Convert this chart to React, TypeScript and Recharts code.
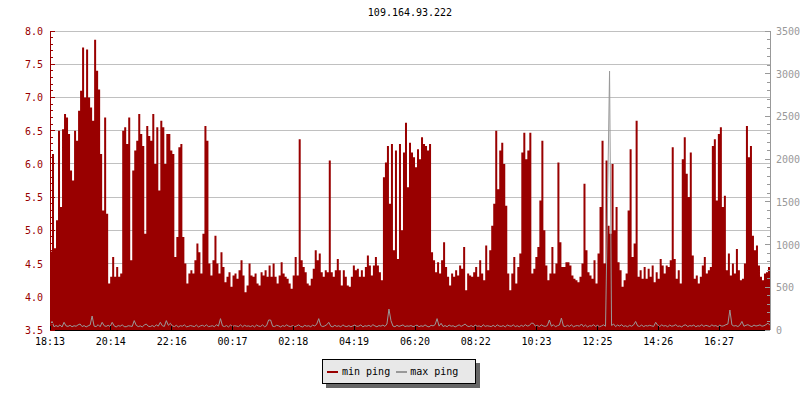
import React from 'react';
import { ComposedChart, Area, Line, XAxis, YAxis, CartesianGrid } from 'recharts';

const FONT = '"DejaVu Sans Mono", monospace';
const RED = '#990000';
const GREY = '#999999';

const TITLE = '109.164.93.222';
const TIME_LABELS = ['18:13', '20:14', '22:16', '00:17', '02:18', '04:19', '06:20', '08:22', '10:23', '12:25', '14:26', '16:27'];
const TIME_TICKS = [0, 30.3, 60.7, 91, 121.3, 151.6, 182, 212.3, 242.6, 273, 303.3, 333.6];

const LEFT_MAJOR = [3.5, 4.0, 4.5, 5.0, 5.5, 6.0, 6.5, 7.0, 7.5, 8.0];
const LEFT_TICKS = [
  3.5, 3.6, 3.7, 3.8, 3.9, 4.0, 4.1, 4.2, 4.3, 4.4, 4.5, 4.6, 4.7, 4.8, 4.9, 5.0,
  5.1, 5.2, 5.3, 5.4, 5.5, 5.6, 5.7, 5.8, 5.9, 6.0, 6.1, 6.2, 6.3, 6.4, 6.5,
  6.6, 6.7, 6.8, 6.9, 7.0, 7.1, 7.2, 7.3, 7.4, 7.5, 7.6, 7.7, 7.8, 7.9, 8.0,
];
const RIGHT_MAJOR = [0, 500, 1000, 1500, 2000, 2500, 3000, 3500];
const RIGHT_TICKS = [
  0, 100, 200, 300, 400, 500, 600, 700, 800, 900, 1000, 1100, 1200, 1300, 1400, 1500, 1600, 1700,
  1800, 1900, 2000, 2100, 2200, 2300, 2400, 2500, 2600, 2700, 2800, 2900, 3000, 3100, 3200, 3300, 3400, 3500,
];

// min ping (left axis), one sample per ~4 minutes
const MIN_PING = [
  4.68, 6.15, 4.73, 5.15, 6.5, 5.35, 6.52, 6.75, 6.7, 6.45,
  5.9, 5.75, 6.5, 6.35, 6.8, 7.1, 7.75, 7.0, 7.72, 7.0,
  6.85, 6.65, 7.87, 7.4, 7.12, 6.15, 5.3, 6.7, 5.25, 4.2,
  4.3, 4.6, 4.3, 4.45, 4.3, 4.35, 6.5, 6.55, 6.3, 6.7,
  4.55, 5.9, 6.2, 6.35, 6.75, 6.45, 6.27, 4.95, 6.57, 6.42,
  6.35, 6.75, 6.0, 6.55, 5.6, 6.65, 6.55, 6.0, 6.45, 6.45,

  6.2, 6.15, 4.6, 4.9, 6.25, 6.3, 4.9, 4.5, 4.2, 4.35,
  4.4, 4.35, 4.55, 4.8, 4.67, 4.35, 4.95, 6.57, 6.35, 4.5,
  4.32, 4.55, 4.92, 4.5, 4.35, 4.67, 4.45, 4.22, 4.3, 4.37,
  4.15, 4.32, 4.35, 4.27, 4.4, 4.55, 4.32, 4.07, 4.17, 4.5,
  4.32, 4.3, 4.35, 4.2, 4.17, 4.37, 4.32, 4.4, 4.3, 4.47,
  4.3, 4.5, 4.3, 4.2, 4.32, 4.52, 4.35, 4.3, 4.27, 4.2,

  4.12, 4.32, 4.6, 4.32, 6.37, 4.55, 4.45, 4.37, 4.2, 4.17,
  4.27, 4.42, 4.7, 4.55, 4.65, 4.37, 4.3, 4.4, 4.37, 6.05,
  4.37, 4.3, 4.4, 4.57, 4.4, 4.17, 4.4, 4.3, 4.17, 4.15,
  4.3, 4.47, 4.4, 4.42, 4.3, 4.4, 4.3, 4.45, 4.62, 4.47,
  4.32, 4.47, 4.6, 4.47, 4.37, 4.25, 5.8, 6.02, 6.27, 5.4,
  6.3, 4.7, 6.2, 4.57, 6.3, 5.0, 6.17, 6.62, 5.65, 6.32,

  6.17, 6.1, 5.95, 6.22, 6.07, 6.4, 6.3, 6.27, 6.2, 6.3,
  4.67, 4.55, 4.37, 4.52, 4.35, 4.55, 4.82, 4.45, 4.3, 4.17,
  4.35, 4.3, 4.4, 4.32, 4.47, 4.42, 4.75, 4.1, 4.35, 4.32,
  4.3, 4.37, 4.45, 4.3, 4.55, 4.35, 4.25, 4.77, 4.4, 4.7,
  5.07, 5.4, 6.5, 5.62, 6.2, 6.32, 6.0, 5.37, 4.35, 4.1,
  4.35, 4.6, 4.2, 4.45, 4.65, 6.17, 6.47, 6.07, 6.2, 6.47,

  4.35, 4.42, 4.6, 4.75, 5.45, 6.35, 5.0, 4.47, 4.25, 4.35,
  4.75, 4.35, 4.5, 6.02, 4.82, 4.45, 4.45, 4.52, 4.52, 4.47,
  4.32, 4.27, 4.25, 4.22, 4.3, 4.5, 5.7, 4.7, 4.37, 4.32,
  4.27, 4.55, 4.2, 4.65, 5.35, 6.35, 4.5, 6.05, 5.07, 4.95,
  6.0, 5.0, 5.35, 4.52, 4.4, 4.15, 4.25, 4.35, 5.3, 6.22,
  4.6, 4.8, 6.65, 4.3, 4.4, 4.27, 4.45, 4.27, 4.42, 4.3,

  4.47, 4.22, 4.37, 4.27, 4.57, 4.47, 4.35, 4.47, 4.45, 4.55,
  6.25, 4.57, 4.27, 4.4, 4.2, 6.07, 6.4, 5.85, 5.5, 6.17,
  4.62, 4.27, 4.32, 4.2, 4.3, 4.47, 4.6, 4.35, 4.4, 4.45,
  6.27, 6.37, 5.45, 6.45, 6.55, 5.35, 5.52, 4.4, 4.65, 4.32,
  4.5, 4.35, 4.72, 4.4, 4.25, 4.27, 4.5, 6.57, 6.1, 6.27,
  4.92, 4.7, 4.77, 4.47, 4.3, 4.25, 4.35, 4.37, 4.45, 6.32,
];

// max ping (right axis)
const MAX_PING = [
  45, 100, 38, 52, 40, 60, 35, 90, 48, 42,
  55, 38, 50, 44, 60, 70, 40, 52, 36, 48,
  58, 164, 45, 40, 62, 38, 90, 50, 42, 55,
  40, 90, 48, 36, 52, 44, 60, 40, 38, 50,
  46, 42, 110, 55, 40, 48, 36, 58, 70, 44,
  40, 52, 38, 60, 45, 90, 50, 42, 110, 55,

  78, 48, 40, 55, 36, 50, 44, 60, 38, 42,
  52, 46, 40, 58, 36, 48, 55, 42, 60, 40,
  44, 50, 38, 62, 45, 133, 48, 40, 52, 36,
  58, 42, 50, 46, 40, 60, 38, 55, 44, 48,
  40, 52, 36, 58, 45, 42, 60, 38, 50, 117,
  117, 44, 40, 55, 48, 36, 52, 42, 60, 45,

  40, 52, 38, 48, 60, 42, 36, 55, 44, 50,
  38, 58, 46, 70, 133, 52, 40, 48, 62, 90,
  44, 38, 55, 42, 50, 36, 60, 45, 40, 52,
  38, 48, 58, 42, 46, 60, 36, 50, 44, 55,
  40, 62, 48, 38, 52, 45, 58, 42, 70, 245,
  110, 46, 38, 55, 42, 50, 60, 40, 48, 44,

  52, 40, 46, 58, 38, 50, 42, 60, 44, 36,
  55, 48, 62, 133, 45, 78, 40, 52, 38, 58,
  44, 50, 36, 48, 60, 42, 55, 70, 46, 40,
  52, 38, 58, 44, 48, 36, 62, 42, 50, 45,
  40, 55, 38, 60, 46, 42, 52, 36, 58, 48,
  44, 60, 40, 50, 38, 55, 42, 62, 46, 52,

  80, 78, 45, 55, 40, 60, 48, 42, 52, 117,
  44, 62, 38, 50, 58, 140, 46, 40, 55, 42,
  60, 38, 48, 52, 44, 70, 40, 58, 36, 50,
  46, 62, 42, 55, 38, 48, 60, 44, 1500, 3030,
  52, 70, 40, 58, 46, 62, 42, 50, 38, 55,
  44, 60, 100, 48, 42, 58, 40, 52, 46, 55,

  48, 42, 90, 55, 40, 60, 46, 52, 38, 58,
  44, 50, 62, 42, 48, 36, 55, 60, 40, 52,
  46, 58, 38, 50, 44, 62, 42, 55, 48, 40,
  60, 46, 52, 38, 58, 44, 50, 62, 70, 234,
  60, 46, 52, 40, 58, 100, 44, 55, 62, 48,
  40, 58, 46, 52, 60, 44, 50, 62, 80, 55,
];

const data = MIN_PING.map((v, i) => ({ i, min: v, max: MAX_PING[i] }));

const isMajor = (list: number[], v: number) => list.some((m) => Math.abs(m - v) < 1e-6);

const LeftTick = (props: any) => {
  const { x, y, payload } = props;
  const major = isMajor(LEFT_MAJOR, payload.value);
  return (
    <g>
      <line x1={x} y1={y} x2={x + (major ? 5 : 3)} y2={y} stroke={RED} shapeRendering="crispEdges" />
      {major && (
        <text x={x - 7} y={y + 4} textAnchor="end" fill={RED} fontSize={10} fontFamily={FONT}>
          {payload.value.toFixed(1)}
        </text>
      )}
    </g>
  );
};

const RightTick = (props: any) => {
  const { x, y, payload } = props;
  const major = isMajor(RIGHT_MAJOR, payload.value);
  return (
    <g>
      <line x1={x} y1={y} x2={x - (major ? 5 : 3)} y2={y} stroke={GREY} shapeRendering="crispEdges" />
      {major && (
        <text x={x + 6} y={y + 4} textAnchor="start" fill={GREY} fontSize={10} fontFamily={FONT}>
          {payload.value}
        </text>
      )}
    </g>
  );
};

const BottomTick = (props: any) => {
  const { x, y, index } = props;
  return (
    <g>
      <line x1={x} y1={y} x2={x} y2={y - 4} stroke="#000" shapeRendering="crispEdges" />
      <text x={x} y={y + 15} textAnchor="middle" fill="#000" fontSize={10} fontFamily={FONT}>
        {TIME_LABELS[index]}
      </text>
    </g>
  );
};

const LegendBox = () => (
  <div
    style={{
      position: 'absolute',
      left: 322,
      top: 359,
      width: 154,
      height: 25,
      boxSizing: 'border-box',
      border: '1px solid #000',
      background: '#e8e8e8',
      boxShadow: '4px 4px 0 #666',
      display: 'flex',
      alignItems: 'center',
      fontFamily: FONT,
      fontSize: 10,
      color: '#000',
      paddingLeft: 4,
    }}
  >
    <span style={{ display: 'inline-block', width: 11, height: 2, background: RED, marginRight: 4 }} />
    <span>min ping</span>
    <span style={{ display: 'inline-block', width: 11, height: 2, background: GREY, marginLeft: 6, marginRight: 3 }} />
    <span>max ping</span>
  </div>
);

export default function App() {
  return (
    <div style={{ position: 'absolute', left: 0, top: 0, width: 800, height: 400, background: '#fff' }}>
      <div
        style={{
          position: 'absolute',
          top: 7,
          left: 20,
          width: 780,
          textAlign: 'center',
          fontFamily: FONT,
          fontSize: 10,
          color: '#000',
        }}
      >
        {TITLE}
      </div>
      <ComposedChart width={800} height={400} data={data} margin={{ top: 31, right: 0, bottom: 50, left: 0 }}>
        <CartesianGrid yAxisId="grid" vertical={false} stroke="#c0c0c0" shapeRendering="crispEdges" />
        <XAxis
          dataKey="i"
          type="number"
          domain={[0, 359]}
          ticks={TIME_TICKS}
          interval={0}
          tickSize={0}
          tickMargin={0}
          tick={<BottomTick />}
          height={20}
          axisLine={{ stroke: '#000', shapeRendering: 'crispEdges' }}
          tickLine={false}
          allowDataOverflow
        />
        <YAxis
          yAxisId="left"
          width={50}
          domain={[3.5, 8]}
          ticks={LEFT_TICKS}
          interval={0}
          tickSize={0}
          tickMargin={0}
          tick={<LeftTick />}
          tickLine={false}
          axisLine={{ stroke: RED, shapeRendering: 'crispEdges' }}
          allowDataOverflow
        />
        <YAxis
          yAxisId="right"
          orientation="right"
          width={30}
          domain={[0, 3500]}
          ticks={RIGHT_TICKS}
          interval={0}
          tickSize={0}
          tickMargin={0}
          tick={<RightTick />}
          tickLine={false}
          axisLine={{ stroke: GREY, shapeRendering: 'crispEdges' }}
          allowDataOverflow
        />
        <YAxis yAxisId="grid" orientation="right" hide width={0} domain={[3.5, 8]} ticks={LEFT_MAJOR} allowDataOverflow />
        <Area
          yAxisId="left"
          dataKey="min"
          type="stepAfter"
          fill={RED}
          fillOpacity={1}
          stroke="none"
          isAnimationActive={false}
          dot={false}
          activeDot={false}
        />
        <Line
          yAxisId="right"
          dataKey="max"
          type="linear"
          stroke={GREY}
          strokeWidth={1}
          dot={false}
          activeDot={false}
          isAnimationActive={false}
        />
      </ComposedChart>
      <LegendBox />
    </div>
  );
}
